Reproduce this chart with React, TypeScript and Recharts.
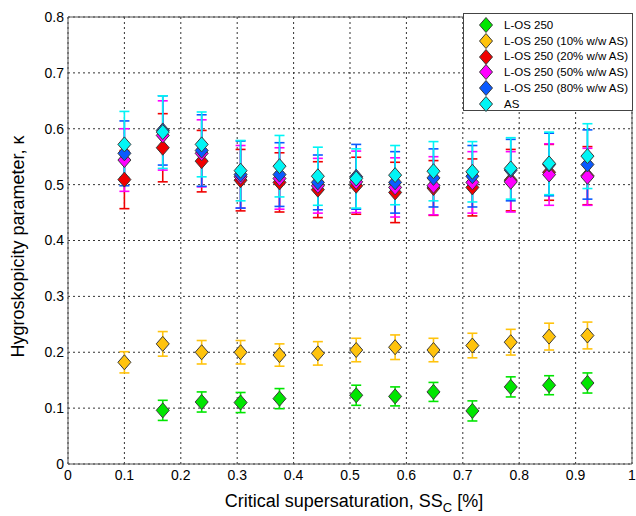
import {
  ErrorBar,
  Legend,
  ReferenceLine,
  Scatter,
  ScatterChart,
  XAxis,
  YAxis,
  CartesianGrid,
} from 'recharts'

const FONT = '"Liberation Sans", Arial, sans-serif'

// critical supersaturation SSc [%]
const ssc = [0.1, 0.168, 0.237, 0.306, 0.375, 0.443, 0.511, 0.58, 0.648, 0.717, 0.785, 0.853, 0.921]

const losKappa = [null, 0.096, 0.111, 0.11, 0.117, null, 0.123, 0.121, 0.129, 0.095, 0.138, 0.141, 0.145]
const losErr = [null, 0.018, 0.018, 0.018, 0.018, null, 0.018, 0.017, 0.017, 0.018, 0.018, 0.017, 0.018]

const as10Kappa = [0.182, 0.215, 0.2, 0.2, 0.195, 0.198, 0.204, 0.209, 0.204, 0.212, 0.218, 0.228, 0.23]
const as10Err = [0.019, 0.022, 0.021, 0.021, 0.02, 0.021, 0.021, 0.022, 0.021, 0.022, 0.023, 0.024, 0.024]

const as20Kappa = [0.509, 0.566, 0.542, 0.508, 0.504, 0.491, 0.498, 0.486, 0.494, 0.495, 0.508, 0.522, 0.516]
const as20Err = [0.052, 0.061, 0.055, 0.055, 0.053, 0.05, 0.051, 0.054, 0.049, 0.051, 0.055, 0.05, 0.052]

const as50Kappa = [0.544, 0.588, 0.556, 0.514, 0.511, 0.498, 0.505, 0.495, 0.498, 0.504, 0.505, 0.518, 0.514]
const as50Err = [0.056, 0.062, 0.06, 0.056, 0.055, 0.049, 0.055, 0.053, 0.052, 0.055, 0.054, 0.055, 0.051]

const as80Kappa = [0.556, 0.597, 0.561, 0.518, 0.518, 0.504, 0.514, 0.504, 0.512, 0.515, 0.526, 0.536, 0.536]
const as80Err = [0.058, 0.062, 0.064, 0.06, 0.057, 0.049, 0.058, 0.055, 0.052, 0.055, 0.055, 0.056, 0.062]

const asKappa = [0.572, 0.594, 0.572, 0.525, 0.533, 0.515, 0.511, 0.517, 0.524, 0.523, 0.529, 0.538, 0.551]
const asErr = [0.059, 0.065, 0.058, 0.054, 0.055, 0.052, 0.053, 0.053, 0.053, 0.054, 0.055, 0.056, 0.058]

const xTicks = [0, 0.1, 0.2, 0.3, 0.4, 0.5, 0.6, 0.7, 0.8, 0.9, 1]
const yTicks = [0, 0.1, 0.2, 0.3, 0.4, 0.5, 0.6, 0.7, 0.8]

const SERIES = [
  { name: 'L-OS 250', color: '#00e600', kappa: losKappa, err: losErr },
  { name: 'L-OS 250 (10% w/w AS)', color: '#ffc30d', kappa: as10Kappa, err: as10Err },
  { name: 'L-OS 250 (20% w/w AS)', color: '#f00000', kappa: as20Kappa, err: as20Err },
  { name: 'L-OS 250 (50% w/w AS)', color: '#ff00ff', kappa: as50Kappa, err: as50Err },
  { name: 'L-OS 250 (80% w/w AS)', color: '#0a5aff', kappa: as80Kappa, err: as80Err },
  { name: 'AS', color: '#00f5f5', kappa: asKappa, err: asErr },
]

const toPoints = (kappa: (number | null)[], err: (number | null)[]) =>
  ssc
    .map((x, i) => ({ x, y: kappa[i], err: err[i] }))
    .filter((p) => p.y != null)

function Diamond({ cx, cy, fill }: any) {
  const w = 6.5
  const h = 7.5
  return (
    <path
      d={`M${cx},${cy - h}L${cx + w},${cy}L${cx},${cy + h}L${cx - w},${cy}Z`}
      fill={fill}
      stroke="#3a3a3a"
      strokeWidth={1}
    />
  )
}

function LegendBox() {
  return (
    <div
      style={{
        boxSizing: 'border-box',
        width: 170,
        height: 98,
        border: '1px solid #444',
        background: '#fff',
        paddingTop: 3,
        fontFamily: FONT,
        fontSize: 11.5,
        color: '#000',
      }}
    >
      {SERIES.map((s) => (
        <div key={s.name} style={{ display: 'flex', alignItems: 'center', height: 15.8 }}>
          <svg width={40} height={16} style={{ flex: 'none' }}>
            <path d="M22,0.5L28.5,8L22,15.5L15.5,8Z" fill={s.color} stroke="#3a3a3a" strokeWidth={1} />
          </svg>
          <span style={{ whiteSpace: 'nowrap' }}>{s.name}</span>
        </div>
      ))}
    </div>
  )
}

const tickStyle = { fill: '#000', fontSize: 14, fontFamily: FONT }

export default function App() {
  return (
    <div style={{ position: 'absolute', left: 0, top: 0, background: '#fff' }}>
      <ScatterChart width={636} height={516} margin={{ top: 17, right: 4, bottom: 0, left: 0 }}>
        <CartesianGrid stroke="#333" strokeDasharray="2 3" />
        <XAxis
          type="number"
          dataKey="x"
          domain={[0, 1]}
          ticks={xTicks}
          interval={0}
          height={52}
          tickLine={false}
          tickSize={0}
          tickMargin={6}
          stroke="#555"
          tick={tickStyle}
          label={({ viewBox }: any) => (
            <text
              x={viewBox.x + viewBox.width / 2 + 4}
              y={viewBox.y + 43}
              textAnchor="middle"
              fontSize={18}
              fontFamily={FONT}
              fill="#000"
            >
              Critical supersaturation, SS
              <tspan dy={5} fontSize={13}>C</tspan>
              <tspan dy={-5}> [%]</tspan>
            </text>
          )}
        />
        <YAxis
          type="number"
          dataKey="y"
          domain={[0, 0.8]}
          ticks={yTicks}
          interval={0}
          width={68}
          tickLine={false}
          tickSize={0}
          tickMargin={4}
          stroke="#555"
          tick={tickStyle}
          label={({ viewBox }: any) => {
            const cy = viewBox.y + viewBox.height / 2 + 6
            return (
              <text
                x={24}
                y={cy}
                transform={`rotate(-90, 24, ${cy})`}
                textAnchor="middle"
                fontSize={18}
                fontFamily={FONT}
                fill="#000"
              >
                Hygroskopicity parameter, κ
              </text>
            )
          }}
        />
        <ReferenceLine y={0.8} stroke="#555" />
        <ReferenceLine x={1} stroke="#555" />
        <Legend
          layout="vertical"
          align="center"
          verticalAlign="middle"
          wrapperStyle={{ position: 'absolute', left: 463, top: 13, width: 170 }}
          content={() => <LegendBox />}
        />
        {SERIES.map((s) => (
          <Scatter
            key={s.name}
            name={s.name}
            data={toPoints(s.kappa, s.err)}
            fill={s.color}
            shape={<Diamond />}
            isAnimationActive={false}
          >
            <ErrorBar
              dataKey="err"
              direction="y"
              width={5}
              stroke={s.color}
              strokeWidth={1.6}
              isAnimationActive={false}
            />
          </Scatter>
        ))}
      </ScatterChart>
    </div>
  )
}
